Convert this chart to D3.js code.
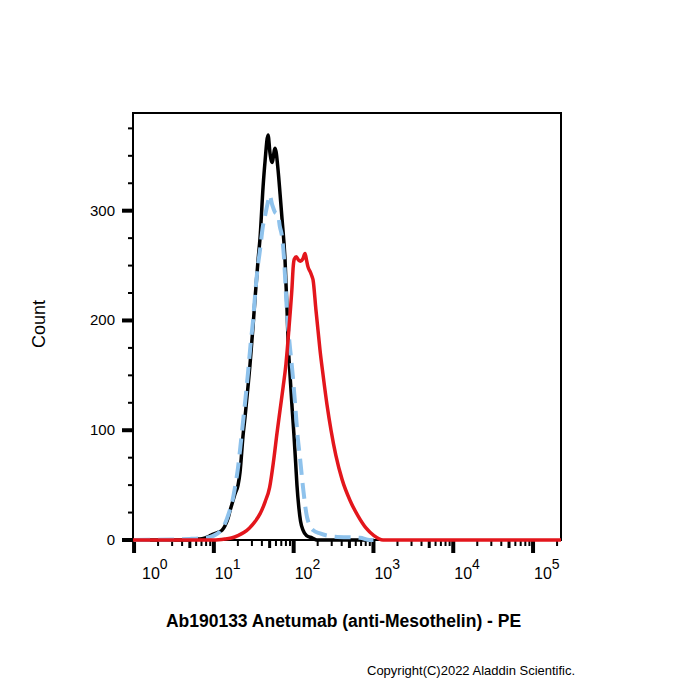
<!DOCTYPE html>
<html lang="en">
<head>
    <meta charset="UTF-8">
    <title>Ab190133 Anetumab histogram</title>
    <script src="https://d3js.org/d3.v7.min.js"></script>
    <style>
        body { margin: 0; background: #fff; }
        svg { display: block; }
        text { font-family: "Liberation Sans", Arial, sans-serif; fill: #000; }
        .curve { fill: none; stroke-linejoin: round; stroke-linecap: butt; }
    </style>
</head>
<body>
<script>
    // Fluorescence (PE) vs event count
    const isotypeBlack = [
        [1, 0], [4.4, 0], [5.8, 1], [6.7, 1], [7.8, 2], [8.5, 3], [9.5, 5], [11.3, 7], [12.7, 9],
        [13.8, 13], [15.1, 20], [16.0, 27], [17.4, 36], [18.4, 42], [20.1, 50], [21.3, 62], [23.2, 95],
        [24.6, 112], [26.8, 140], [28.4, 160], [31.0, 195], [32.8, 220], [35.8, 255], [37.9, 275],
        [41.4, 322], [43.8, 345], [47.8, 369], [50.6, 352], [53.6, 344], [58.5, 357], [63.8, 337],
        [67.6, 315], [71.6, 292], [78.0, 255], [82.6, 210], [85.1, 182], [90.1, 150], [95.5, 121],
        [101, 95], [106, 70], [110, 50], [116, 30], [122, 17], [131, 9], [145, 4], [170, 2],
        [196, 0], [1000, 0]
    ];

    const controlBlue = [
        [1, 0], [5, 1], [8, 2], [10, 4], [12, 8], [13.8, 15], [15.5, 25], [17, 35], [18.4, 48],
        [20, 65], [21.5, 85], [23, 105], [25, 130], [27, 155], [29, 180], [31, 200], [33, 225],
        [35, 245], [38, 265], [41, 285], [44, 296], [47, 306], [50, 314], [54, 305], [58, 299],
        [63.8, 296], [67, 286], [71.6, 276], [76, 255], [78, 240], [82.6, 207], [90, 175],
        [96, 155], [104, 125], [112, 95], [120, 75], [131, 48], [147, 21], [175, 9], [214, 6],
        [330, 3], [680, 2], [900, 0], [1000, 0]
    ];

    const stainedRed = [
        [0.97, 0], [10, 0], [14, 1], [17, 2], [20, 4], [24, 7], [28, 11], [33, 17], [38, 24],
        [44, 35], [50, 48], [56, 72], [62, 98], [68, 120], [74, 140], [80, 160], [85, 182],
        [90, 205], [95, 228], [99, 250], [102, 256], [108, 258], [115, 255], [122, 254], [130, 256],
        [139, 261], [145, 255], [151, 249], [162, 244], [170, 240], [175, 237], [190, 210],
        [202, 191], [214, 173], [234, 150], [262, 123], [294, 100], [338, 77], [405, 55],
        [509, 36], [640, 22], [805, 11], [1014, 4], [1318, 0], [224000, 0]
    ];

    const decades = [1, 10, 100, 1000, 10000, 100000];
    const decadeExponents = ["0", "1", "2", "3", "4", "5"];
    const countTicks = [0, 100, 200, 300];
    const countLabels = ["0", "100", "200", "300"];

    const width = 700, height = 700;
    const plotLeft = 133, plotRight = 561, plotTop = 113, plotBottom = 540;

    const svg = d3.select("body").append("svg")
        .attr("width", width)
        .attr("height", height);

    const x = d3.scaleLog().domain([0.97, 224000]).range([plotLeft, plotRight]);
    const y = d3.scaleLinear().domain([0, 389]).range([plotBottom, plotTop]);

    // frame
    svg.append("rect")
        .attr("x", plotLeft).attr("y", plotTop)
        .attr("width", plotRight - plotLeft).attr("height", plotBottom - plotTop)
        .attr("fill", "none").attr("stroke", "#000").attr("stroke-width", 2);

    // y ticks
    const minorCounts = d3.range(25, 389, 25).filter(v => v % 100 !== 0);
    svg.append("g").selectAll("line").data(minorCounts).enter()
        .append("line")
        .attr("x1", plotLeft - 5).attr("x2", plotLeft)
        .attr("y1", d => y(d)).attr("y2", d => y(d))
        .attr("stroke", "#000").attr("stroke-width", 2);

    svg.append("g").selectAll("line").data(countTicks).enter()
        .append("line")
        .attr("x1", plotLeft - 11).attr("x2", plotLeft)
        .attr("y1", d => y(d)).attr("y2", d => y(d))
        .attr("stroke", "#000").attr("stroke-width", 4);

    svg.append("g").selectAll("text").data(countTicks).enter()
        .append("text")
        .attr("x", plotLeft - 18)
        .attr("y", d => y(d) + 5)
        .attr("text-anchor", "end")
        .style("font-size", "15px")
        .text((d, i) => countLabels[i]);

    // x ticks
    const minorFluor = [];
    decades.forEach(dec => {
        for (let m = 2; m <= 9; m++) {
            const v = dec * m;
            if (v < x.domain()[1]) minorFluor.push({ v: v, m: m });
        }
    });

    svg.append("g").selectAll("line").data(minorFluor).enter()
        .append("line")
        .attr("x1", d => x(d.v)).attr("x2", d => x(d.v))
        .attr("y1", plotBottom).attr("y2", d => d.m === 5 ? plotBottom + 8 : plotBottom + 6)
        .attr("stroke", "#000")
        .attr("stroke-width", d => d.m === 5 ? 3 : 2);

    svg.append("g").selectAll("line").data(decades).enter()
        .append("line")
        .attr("x1", d => x(d)).attr("x2", d => x(d))
        .attr("y1", plotBottom).attr("y2", plotBottom + 13)
        .attr("stroke", "#000").attr("stroke-width", 4);

    const xl = svg.append("g").selectAll("text").data(decades).enter()
        .append("text")
        .attr("x", d => Math.max(x(d) + 1, plotLeft + 9))
        .attr("y", 579)
        .style("font-size", "16px");
    xl.append("tspan").text("10");
    xl.append("tspan")
        .attr("dy", -10)
        .style("font-size", "14px")
        .text((d, i) => decadeExponents[i]);

    // histograms
    const line = d3.line()
        .x(d => x(d[0]))
        .y(d => y(d[1]))
        .curve(d3.curveMonotoneX);

    svg.append("path").datum(isotypeBlack)
        .attr("class", "curve")
        .attr("d", line)
        .attr("stroke", "#000")
        .attr("stroke-width", 3.5);

    svg.append("path").datum(controlBlue)
        .attr("class", "curve")
        .attr("d", line)
        .attr("stroke", "#8ec2ec")
        .attr("stroke-width", 4)
        .attr("stroke-dasharray", "16,8");

    svg.append("path").datum(stainedRed)
        .attr("class", "curve")
        .attr("d", line)
        .attr("stroke", "#e3161c")
        .attr("stroke-width", 3.5);

    // axis titles
    svg.append("text")
        .attr("transform", "translate(45,324) rotate(-90)")
        .attr("text-anchor", "middle")
        .style("font-size", "18px")
        .text("Count");

    svg.append("text")
        .attr("x", 343.5)
        .attr("y", 627)
        .attr("text-anchor", "middle")
        .style("font-size", "17.5px")
        .style("font-weight", "bold")
        .text("Ab190133 Anetumab (anti-Mesothelin) - PE");

    svg.append("text")
        .attr("x", 367)
        .attr("y", 675)
        .style("font-size", "13px")
        .text("Copyright(C)2022 Aladdin Scientific.");
</script>
</body>
</html>
